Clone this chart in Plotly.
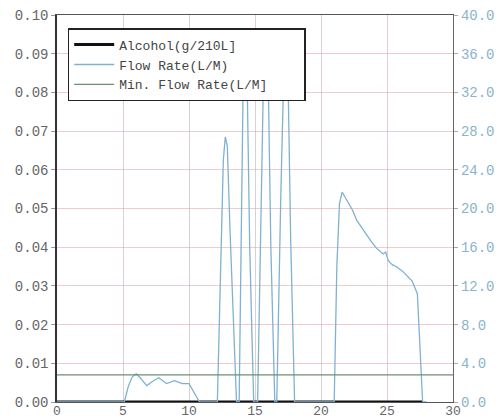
import plotly.graph_objects as go

# Data
time_s = [0, 5.1, 5.4, 5.7, 6.0, 6.3, 6.8, 7.2, 7.7, 8.3, 8.9, 9.5, 10.0, 10.3, 10.8,
          12.15, 12.4, 12.6, 12.75, 12.9, 13.1, 13.4, 13.6,
          13.8, 13.95, 14.15, 14.35, 14.6, 14.9,
          15.2, 15.45, 15.7, 15.95, 16.2, 16.5,
          16.65, 16.95, 17.25, 17.45, 17.7, 18.0,
          21.0, 21.2, 21.4, 21.6, 22.0, 22.4, 22.7, 23.0, 23.4, 23.8, 24.2, 24.7, 24.9,
          25.1, 25.4, 25.8, 26.2, 26.5, 26.9, 27.3, 27.5, 27.7, 28.0]
flow_rate = [0, 0, 1.6, 2.6, 2.9, 2.5, 1.7, 2.1, 2.5, 1.9, 2.2, 1.9, 1.9, 1.2, 0,
             0, 14, 25, 27.4, 26.5, 18, 6, 0,
             0, 16, 38, 38, 16, 0,
             0, 19, 38, 38, 16, 0,
             0, 21, 38, 38, 17, 0,
             0, 14, 20.5, 21.7, 20.8, 19.8, 18.8, 18.2, 17.3, 16.6, 15.9, 15.3, 15.5,
             14.6, 14.2, 13.9, 13.5, 13.1, 12.5, 11.2, 6, 0, 0]
alcohol_time = [0, 27.7]
alcohol = [0.0, 0.0]
min_flow_time = [0, 30]
min_flow = [2.8, 2.8]

x_ticks = [0, 5, 10, 15, 20, 25, 30]

mono = "Liberation Mono, Courier New, monospace"
pad = "\u00a0" * 4

fig = go.Figure()
fig.add_trace(go.Scatter(x=alcohol_time, y=alcohol, mode="lines", name="Alcohol(g/210L]",
                         line=dict(color="#111111", width=3), yaxis="y", cliponaxis=False))
fig.add_trace(go.Scatter(x=time_s, y=flow_rate, mode="lines", name="Flow Rate(L/M)",
                         line=dict(color="#7fb2d0", width=1.3), yaxis="y2"))
fig.add_trace(go.Scatter(x=min_flow_time, y=min_flow, mode="lines", name="Min. Flow Rate(L/M]" + pad,
                         line=dict(color="#6e8f72", width=1.2), yaxis="y2"))

fig.update_layout(
    width=499, height=418,
    margin=dict(l=57, r=46, t=15, b=16),
    paper_bgcolor="white", plot_bgcolor="white",
    font=dict(family=mono, size=14, color="#555555"),
    showlegend=True,
    legend=dict(x=0.027, y=0.966, xanchor="left", yanchor="top",
                bgcolor="white", bordercolor="#222222", borderwidth=1.5,
                font=dict(family=mono, size=13, color="#444444"),
                itemwidth=40, tracegroupgap=0),
    xaxis=dict(range=[0, 30], tickvals=x_ticks, showgrid=True, automargin=False,
               gridcolor="rgba(190,160,170,0.5)", gridwidth=1,
               showline=True, linecolor="#555555", linewidth=1.2, mirror=True,
               zeroline=False, ticks="", ticklabelstandoff=-4,
               tickfont=dict(color="#666666", size=13)),
    yaxis=dict(range=[0, 0.10], dtick=0.01, tickformat=".2f", showgrid=True, automargin=False,
               gridcolor="rgba(225,160,160,0.55)", gridwidth=1,
               showline=True, linecolor="#333333", linewidth=1.5, mirror=False,
               zeroline=False, ticks="outside", ticklen=4, tickcolor="#999999",
               tickfont=dict(color="#666666", size=14)),
    yaxis2=dict(range=[0, 40], dtick=4, tickformat=".1f", overlaying="y", side="right",
                automargin=False,
                showgrid=False, showline=True, linecolor="#666666", linewidth=1.2,
                zeroline=False, ticks="outside", ticklen=4, tickcolor="#aaaaaa",
                tickfont=dict(color="#8bb4cc", size=14)),
)

fig.write_html("out.html")
